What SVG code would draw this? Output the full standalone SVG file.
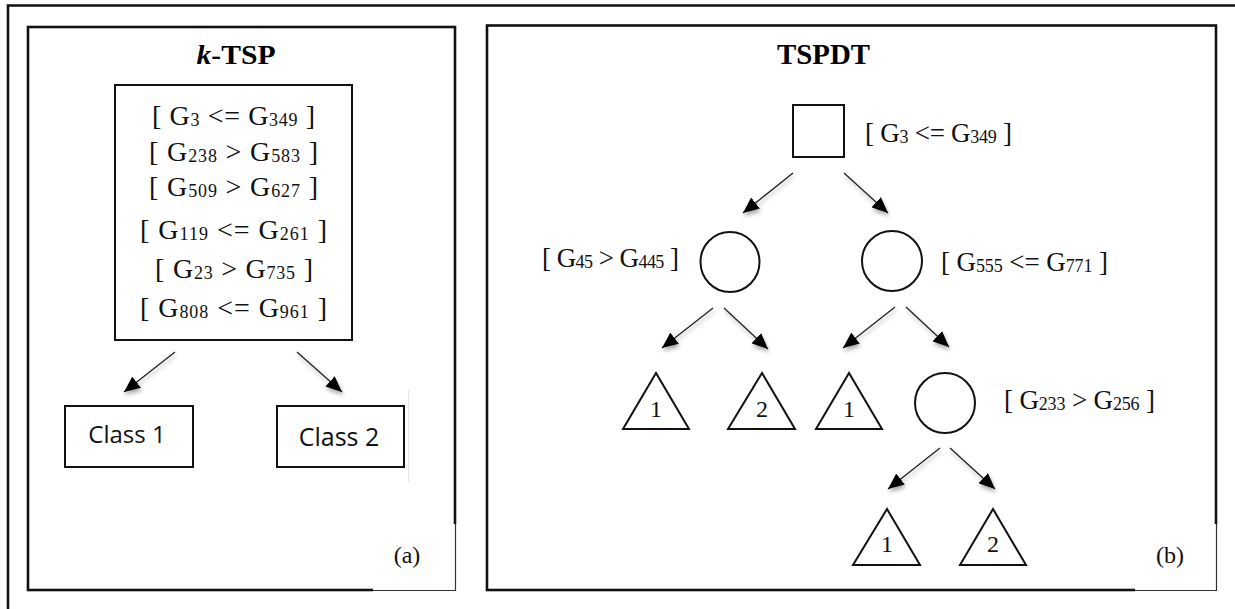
<svg xmlns="http://www.w3.org/2000/svg" width="1235" height="609" viewBox="0 0 1235 609">
  <style>
    .frame { fill: none; stroke: #111; stroke-width: 2.6; }
    .thin { fill: none; stroke: #333; stroke-width: 1.2; }
    .box { fill: #fff; stroke: #111; stroke-width: 2; }
    .shape { fill: #fff; stroke: #111; stroke-width: 2; }
    .lbl { font-family: "Liberation Serif", "Times New Roman", serif; font-size: 27px; fill: #111; }
    .lblA { font-family: "Liberation Serif", "Times New Roman", serif; font-size: 28px; fill: #111; }
    .sub { font-size: 18px; }
    .title { font-family: "Liberation Serif", "Times New Roman", serif; font-weight: bold; fill: #000; }
    .cls { font-family: "Open Sans", "Liberation Sans", Arial, sans-serif; fill: #111; }
    .num { font-family: "Liberation Serif", "Times New Roman", serif; font-size: 24px; fill: #111; text-anchor: middle; }
    .cap { font-family: "Liberation Serif", "Times New Roman", serif; font-size: 24px; fill: #111; text-anchor: middle; }
    .conn line { stroke: #222; stroke-width: 1.3; marker-end: url(#arrow); }
  </style>
  <defs>
    <marker id="arrow" markerUnits="userSpaceOnUse" markerWidth="18" markerHeight="14" refX="16" refY="7" orient="auto">
      <path d="M0,0 L16,7 L0,14 Z" fill="#000"/>
    </marker>
    <filter id="shadow" x="-20%" y="-20%" width="140%" height="160%">
      <feGaussianBlur in="SourceAlpha" stdDeviation="2"/>
      <feOffset dx="1" dy="3" result="b"/>
      <feComponentTransfer in="b" result="s"><feFuncA type="linear" slope="0.35"/></feComponentTransfer>
      <feMerge><feMergeNode in="s"/><feMergeNode in="SourceGraphic"/></feMerge>
    </filter>
  </defs>

  <rect width="1235" height="609" fill="#fff"/>

  <!-- outer frame -->
  <path class="frame" d="M8,609 V5.5 H1235"/>

  <!-- panel (a) -->
  <g id="panel-a">
    <rect class="frame" x="28" y="27" width="427" height="563"/>
    <rect x="373" y="524" width="85" height="68" fill="#fff"/>
    <path class="thin" d="M455.5,524 V590.5 H373"/>
    <text class="title" x="236" y="64" font-size="27" text-anchor="middle" textLength="79" lengthAdjust="spacingAndGlyphs"><tspan font-style="italic">k</tspan>-TSP</text>
    <text class="cap" x="407" y="563">(a)</text>
  </g>

  <g id="ktsp-rules">
    <rect class="box" x="115" y="85" width="237" height="255"/>
    <text class="lblA" x="233.5" y="125" text-anchor="middle" textLength="163" lengthAdjust="spacing">[ G<tspan class="sub" dy="1">3</tspan><tspan dy="-1"> &lt;= G</tspan><tspan class="sub" dy="1">349</tspan><tspan dy="-1"> ]</tspan></text>
    <text class="lblA" x="233.5" y="161" text-anchor="middle" textLength="169" lengthAdjust="spacing">[ G<tspan class="sub" dy="1">238</tspan><tspan dy="-1"> &gt; G</tspan><tspan class="sub" dy="1">583</tspan><tspan dy="-1"> ]</tspan></text>
    <text class="lblA" x="233.5" y="196" text-anchor="middle" textLength="169" lengthAdjust="spacing">[ G<tspan class="sub" dy="1">509</tspan><tspan dy="-1"> &gt; G</tspan><tspan class="sub" dy="1">627</tspan><tspan dy="-1"> ]</tspan></text>
    <text class="lblA" x="233.5" y="239" text-anchor="middle" textLength="187" lengthAdjust="spacing">[ G<tspan class="sub" dy="1">119</tspan><tspan dy="-1"> &lt;= G</tspan><tspan class="sub" dy="1">261</tspan><tspan dy="-1"> ]</tspan></text>
    <text class="lblA" x="234" y="278" text-anchor="middle" textLength="158" lengthAdjust="spacing">[ G<tspan class="sub" dy="1">23</tspan><tspan dy="-1"> &gt; G</tspan><tspan class="sub" dy="1">735</tspan><tspan dy="-1"> ]</tspan></text>
    <text class="lblA" x="233.5" y="317" text-anchor="middle" textLength="187" lengthAdjust="spacing">[ G<tspan class="sub" dy="1">808</tspan><tspan dy="-1"> &lt;= G</tspan><tspan class="sub" dy="1">961</tspan><tspan dy="-1"> ]</tspan></text>
  </g>

  <g id="class1">
    <rect class="box" x="65" y="406" width="128" height="61"/>
    <text class="cls" x="127" y="443" font-size="24" text-anchor="middle">Class 1</text>
  </g>
  <g id="class2">
    <rect class="box" x="277" y="406" width="127" height="61"/>
    <line x1="408.5" y1="390" x2="408.5" y2="482" stroke="#e6e6e6" stroke-width="1"/>
    <text class="cls" x="339" y="446" font-size="25" text-anchor="middle">Class 2</text>
  </g>

  <!-- panel (b) -->
  <g id="panel-b">
    <rect class="frame" x="487" y="25.5" width="729" height="564.5"/>
    <rect x="1135" y="524" width="85" height="68" fill="#fff"/>
    <path class="thin" d="M1216.5,524 V590.5 H1135"/>
    <text class="title" x="823.5" y="64" font-size="29" text-anchor="middle" textLength="93" lengthAdjust="spacingAndGlyphs">TSPDT</text>
    <text class="cap" x="1170" y="563">(b)</text>
  </g>

  <g id="root">
    <rect class="shape" x="793" y="105" width="51" height="52"/>
    <text class="lbl" x="865" y="142" textLength="147" lengthAdjust="spacing">[ G<tspan class="sub" dy="1">3</tspan><tspan dy="-1"> &lt;= G</tspan><tspan class="sub" dy="1">349</tspan><tspan dy="-1"> ]</tspan></text>
  </g>

  <g id="node-left">
    <ellipse class="shape" cx="730" cy="262" rx="29.5" ry="30"/>
    <text class="lbl" x="542" y="267" textLength="137" lengthAdjust="spacing">[ G<tspan class="sub" dy="1">45</tspan><tspan dy="-1"> &gt; G</tspan><tspan class="sub" dy="1">445</tspan><tspan dy="-1"> ]</tspan></text>
  </g>

  <g id="node-right">
    <ellipse class="shape" cx="892" cy="261" rx="30" ry="30"/>
    <text class="lbl" x="941" y="271" textLength="167" lengthAdjust="spacing">[ G<tspan class="sub" dy="1">555</tspan><tspan dy="-1"> &lt;= G</tspan><tspan class="sub" dy="1">771</tspan><tspan dy="-1"> ]</tspan></text>
  </g>

  <g id="leaf-ll">
    <polygon class="shape" points="656,373 623,429 689,429"/>
    <text class="num" x="656" y="417">1</text>
  </g>
  <g id="leaf-lr">
    <polygon class="shape" points="762,373 728,429 795,429"/>
    <text class="num" x="762" y="417">2</text>
  </g>
  <g id="leaf-rl">
    <polygon class="shape" points="849,373 816,429 882,429"/>
    <text class="num" x="849" y="417">1</text>
  </g>

  <g id="node-rr">
    <ellipse class="shape" cx="945" cy="403" rx="30" ry="30"/>
    <text class="lbl" x="1004" y="409" textLength="151" lengthAdjust="spacing">[ G<tspan class="sub" dy="1">233</tspan><tspan dy="-1"> &gt; G</tspan><tspan class="sub" dy="1">256</tspan><tspan dy="-1"> ]</tspan></text>
  </g>

  <g id="leaf-rrl">
    <polygon class="shape" points="887,509 853,565 920,565"/>
    <text class="num" x="887" y="552">1</text>
  </g>
  <g id="leaf-rrr">
    <polygon class="shape" points="993,509 960,565 1026,565"/>
    <text class="num" x="993" y="552">2</text>
  </g>

  <!-- connectors -->
  <g id="connectors" class="conn" filter="url(#shadow)">
    <line x1="175" y1="352" x2="124" y2="392"/>
    <line x1="297" y1="352" x2="342" y2="392"/>
    <line x1="793" y1="173" x2="743" y2="213"/>
    <line x1="844" y1="173" x2="888" y2="213"/>
    <line x1="713" y1="308" x2="662" y2="348"/>
    <line x1="724" y1="308" x2="768" y2="349"/>
    <line x1="895" y1="307" x2="843" y2="348"/>
    <line x1="906" y1="307" x2="949" y2="347"/>
    <line x1="940" y1="448" x2="888" y2="489"/>
    <line x1="950" y1="448" x2="995" y2="489"/>
  </g>
</svg>
